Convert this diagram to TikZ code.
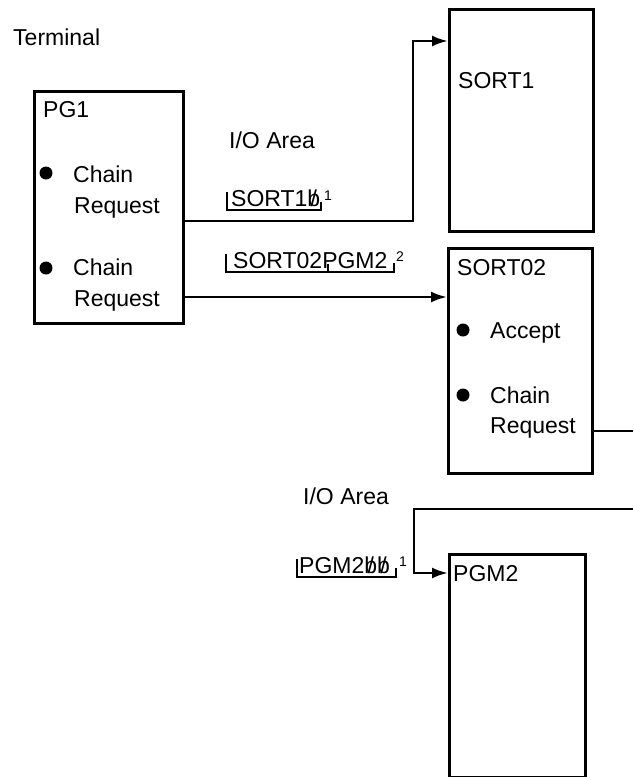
\documentclass[tikz,border=0pt]{standalone}
\usepackage{fontspec}
\setmainfont{Liberation Sans}
\usetikzlibrary{arrows.meta}
\newcommand{\bsl}{{\ooalign{b\cr\hidewidth/\hidewidth\cr}}}
\begin{document}
\begin{tikzpicture}[x=1pt,y=-1pt,
  box/.style={draw, line width=2.8pt, anchor=north west, inner sep=0pt},
  txt/.style={anchor=base west, inner sep=0pt, font=\fontsize{23}{27}\selectfont},
  sup/.style={anchor=base west, inner sep=0pt, font=\fontsize{14}{16}\selectfont},
  dot/.style={circle, fill, inner sep=0pt, minimum size=13pt},
  wire/.style={line width=2.6pt},
  conn/.style={line width=2.6pt, -{Latex[length=16pt,width=11pt]}},
  brk/.style={line width=2.2pt}]
\useasboundingbox (0,0) rectangle (633,777);

% boxes
\node[box, minimum width=149pt, minimum height=232pt] (PG1) at (33,90) {};
\node[box, minimum width=144pt, minimum height=222pt] (SORT1) at (448,8) {};
\node[box, minimum width=144pt, minimum height=225pt] (SORT02) at (447,247) {};
\node[box, minimum width=136pt, minimum height=223pt] (PGM2) at (448,553) {};

% texts
\node[txt] (term) at (13,45) {Terminal};
\node[txt] (pgl) at (43,117) {PG1};
\node[dot] (d1) at (46,173) {};
\node[txt] (c1) at (73,182) {Chain};
\node[txt] (r1) at (74,213) {Request};
\node[dot] (d2) at (46,268) {};
\node[txt] (c2) at (73,275) {Chain};
\node[txt] (r2) at (74,306) {Request};
\node[txt] (io1) at (229,148) {I/O Area};
\node[txt] (io2) at (303,504) {I/O Area};
\node[txt] (s1l) at (458,88) {SORT1};
\node[txt] (s2l) at (457,275) {SORT02};
\node[dot] (d3) at (463,330) {};
\node[txt] (acc) at (490,338) {Accept};
\node[dot] (d4) at (463,395) {};
\node[txt] (c3) at (490,403) {Chain};
\node[txt] (r3) at (490,433) {Request};
\node[txt] (pgml) at (453,581) {PGM2};

% I/O area contents
\node[txt] (io1t) at (231,206) {SORT1\bsl};
\node[sup] (io1s) at (324,200) {1};
\draw[brk] (227,192) |- (321,210) -- (321,202);
\node[txt] (io2t) at (233,268) {SORT02PGM2};
\node[sup] (io2s) at (396,261) {2};
\draw[brk] (226,254) |- (394,272) -- (394,263);
\draw[brk] (328,272) -- (328,264);
\node[txt] (io3t) at (299,573) {PGM2\bsl\bsl};
\node[sup] (io3s) at (399,566) {1};
\draw[brk] (297,559) |- (396,577) -- (396,568);

% connectors
\coordinate (ya) at (0,221);
\coordinate (yt) at (0,41);
\coordinate (xa) at (413,0);
\coordinate (yb) at (0,297);
\coordinate (yc) at (0,431);
\coordinate (rc) at (633,431);
\coordinate (ld) at (633,509);
\coordinate (xd) at (414,0);
\coordinate (ye) at (0,573);
\draw[conn] (PG1.east |- ya) -| (xa |- yt) -- (SORT1.west |- yt);
\draw[conn] (PG1.east |- yb) -- (SORT02.west |- yb);
\draw[wire] (SORT02.east |- yc) -- (rc);
\draw[conn] (ld) -| (xd |- ye) -- (PGM2.west |- ye);
\end{tikzpicture}
\end{document}
